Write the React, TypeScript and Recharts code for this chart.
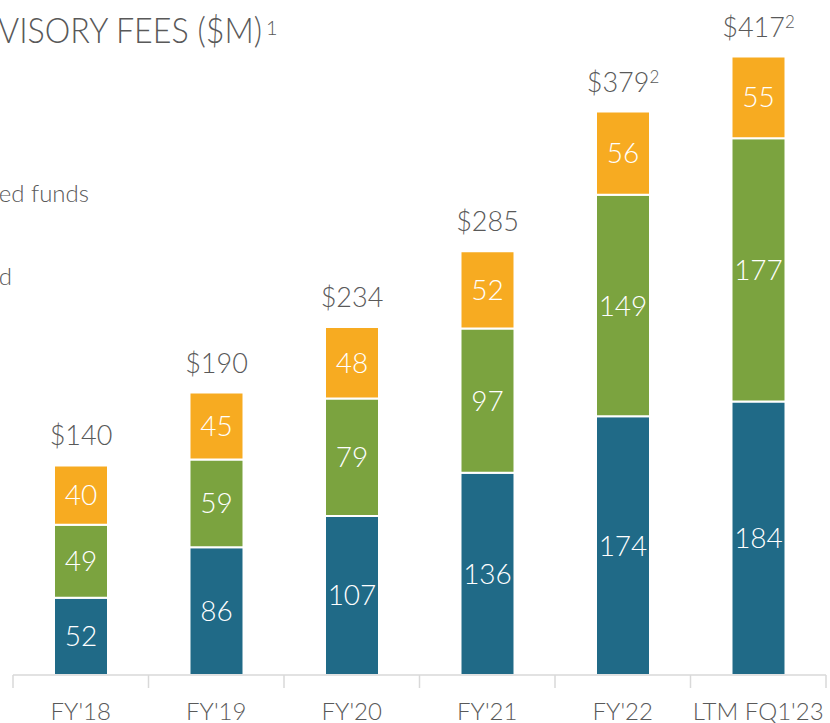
import React from "react";
import { BarChart, Bar, XAxis, YAxis, LabelList } from "recharts";

const categories = ["FY'18", "FY'19", "FY'20", "FY'21", "FY'22", "LTM FQ1'23"];
const smaFees = [52, 86, 107, 136, 174, 184];
const fundFees = [49, 59, 79, 97, 149, 177];
const advisoryFees = [40, 45, 48, 52, 56, 55];
const totals = ["$140", "$190", "$234", "$285", "$379", "$417"];
const totalNotes = ["", "", "", "", "2", "2"];

const data = categories.map((name, i) => ({
  name,
  sma: smaFees[i],
  funds: fundFees[i],
  advisory: advisoryFees[i],
  total: totals[i],
  note: totalNotes[i],
}));

const FONT = "Lato, 'Open Sans', sans-serif";
const GRAY = "#595959";
const W = 830;
const H = 723;
const LEFT = 13;
const RIGHT = 4;
const HALF_BAND = (W - LEFT - RIGHT) / categories.length / 2;

function CategoryTick(props: any) {
  const { x, y, payload, index } = props;
  return (
    <g>
      <line x1={x - HALF_BAND} x2={x - HALF_BAND} y1={y - 8} y2={y + 5} stroke="#d9d9d9" strokeWidth={1.5} />
      {index === categories.length - 1 && (
        <line x1={x + HALF_BAND} x2={x + HALF_BAND} y1={y - 8} y2={y + 5} stroke="#d9d9d9" strokeWidth={1.5} />
      )}
      <text x={x} y={y + 37} textAnchor="middle" fill={GRAY} fontSize={24} fontFamily={FONT} fontWeight={300}>
        {payload.value}
      </text>
    </g>
  );
}

function TotalLabel(props: any) {
  const { x, y, width, index } = props;
  const d = data[index];
  return (
    <text x={x + width / 2} y={y - 20} textAnchor="middle" fill={GRAY} fontSize={27} fontFamily={FONT} fontWeight={300}>
      {d.total}
      {d.note && (
        <tspan fontSize={17} dy={-9}>
          {d.note}
        </tspan>
      )}
    </text>
  );
}

const segLabel = { fill: "#ffffff", fontSize: 28, fontFamily: FONT, fontWeight: 300 };

export default function App() {
  return (
    <div style={{ position: "absolute", left: 0, top: 0, width: W, height: H, background: "#fff", overflow: "hidden" }}>
      <BarChart
        width={W}
        height={H}
        data={data}
        margin={{ top: 6, right: RIGHT, left: LEFT, bottom: 0 }}
        barSize={54}
      >
        <text
          x={-47}
          y={43}
          fill={GRAY}
          fontSize={35}
          fontFamily={FONT}
          fontWeight={300}
          textLength={309}
          lengthAdjust="spacingAndGlyphs"
        >
          ADVISORY FEES ($M)
        </text>
        <text x={266} y={35} fill={GRAY} fontSize={20} fontFamily={FONT} fontWeight={300}>
          1
        </text>
        <text x={89} y={202} textAnchor="end" fill={GRAY} fontSize={24} fontFamily={FONT} fontWeight={300}>
          Focused commingled funds
        </text>
        <text x={12} y={285} textAnchor="end" fill={GRAY} fontSize={24} fontFamily={FONT} fontWeight={300}>
          Separately managed
        </text>
        <XAxis
          dataKey="name"
          height={48}
          tickLine={false}
          axisLine={{ stroke: "#d9d9d9", strokeWidth: 1.5 }}
          tick={<CategoryTick />}
          interval={0}
        />
        <YAxis hide domain={[0, 450]} />
        <Bar dataKey="sma" stackId="a" fill="#206a87" stroke="#ffffff" strokeWidth={2} isAnimationActive={false}>
          <LabelList dataKey="sma" position="center" style={segLabel} />
        </Bar>
        <Bar dataKey="funds" stackId="a" fill="#7ba33f" stroke="#ffffff" strokeWidth={2} isAnimationActive={false}>
          <LabelList dataKey="funds" position="center" style={segLabel} />
        </Bar>
        <Bar dataKey="advisory" stackId="a" fill="#f7ab21" stroke="#ffffff" strokeWidth={2} isAnimationActive={false}>
          <LabelList dataKey="advisory" position="center" style={segLabel} />
          <LabelList dataKey="total" content={<TotalLabel />} />
        </Bar>
      </BarChart>
    </div>
  );
}
